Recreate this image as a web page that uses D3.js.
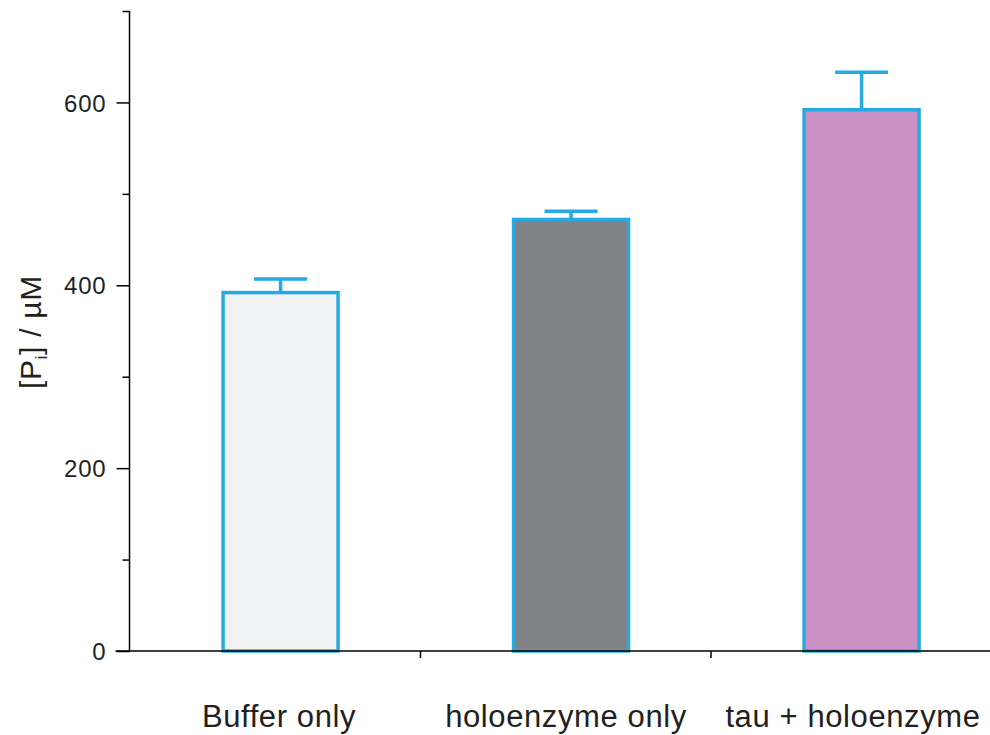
<!DOCTYPE html>
<html>
<head>
<meta charset="utf-8">
<script src="https://cdn.jsdelivr.net/npm/d3@7"></script>
<style>
  body { margin: 0; background: #fff; }
  svg text { font-family: "Liberation Sans", Arial, sans-serif; fill: #231f20; }
</style>
</head>
<body>
<svg id="chart" width="990" height="735"></svg>
<script>
const categories = ['Buffer only', 'holoenzyme only', 'tau + holoenzyme'];
const means = [392, 472, 592];
const errors = [15, 9, 41];
const fills = ['#f1f2f4', '#808285', '#c991c6'];
const majorTicks = [0, 200, 400, 600];
const minorTicks = [100, 300, 500, 700];

const svg = d3.select('#chart');
const stroke = '#27aae1';

const y = d3.scaleLinear().domain([0, 700]).range([651, 11]);
const x = d3.scaleLinear().domain([0, 3]).range([129.5, 1001]);
const barW = 115;
const capW = 53;

// bars
svg.append('g').selectAll('rect')
  .data(means)
  .enter().append('rect')
  .attr('x', (d, i) => x(i + 0.52) - barW / 2)
  .attr('y', d => y(d))
  .attr('width', barW)
  .attr('height', d => y(0) - y(d))
  .attr('fill', (d, i) => fills[i])
  .attr('stroke', stroke)
  .attr('stroke-width', 3.5);

// error bars (upper only)
const err = svg.append('g').attr('stroke', stroke).attr('stroke-width', 3.5);
means.forEach((d, i) => {
  const cx = x(i + 0.52);
  err.append('line')
    .attr('x1', cx).attr('x2', cx)
    .attr('y1', y(d)).attr('y2', y(d + errors[i]));
  err.append('line')
    .attr('x1', cx - capW / 2).attr('x2', cx + capW / 2)
    .attr('y1', y(d + errors[i])).attr('y2', y(d + errors[i]));
});

// y axis
const yAxis = svg.append('g')
  .attr('transform', 'translate(' + x(0) + ',0)')
  .call(d3.axisLeft(y).tickValues(majorTicks).tickSize(13).tickPadding(10).tickFormat(d3.format('d')));
yAxis.select('.domain').remove();
yAxis.selectAll('line').attr('stroke', '#000').attr('stroke-width', 1.5);
yAxis.selectAll('text')
  .style('font-size', '24px')
  .style('letter-spacing', '0.8px')
  .attr('dy', '0.36em');

svg.append('g')
  .attr('transform', 'translate(' + x(0) + ',0)')
  .call(d3.axisLeft(y).tickValues(minorTicks).tickSize(7).tickFormat(''))
  .call(g => g.select('.domain').remove())
  .selectAll('line').attr('stroke', '#000').attr('stroke-width', 1.5);

svg.append('line')
  .attr('x1', x(0)).attr('x2', x(0))
  .attr('y1', y(700)).attr('y2', y(0))
  .attr('stroke', '#000').attr('stroke-width', 1.5);

// x axis
const xAxis = svg.append('g')
  .attr('transform', 'translate(0,' + y(0) + ')')
  .call(d3.axisBottom(x).tickValues([1, 2]).tickSize(7).tickFormat(''));
xAxis.select('.domain').remove();
xAxis.selectAll('line').attr('stroke', '#000').attr('stroke-width', 1.5);

svg.append('line')
  .attr('x1', x(0) - 14).attr('x2', 990)
  .attr('y1', y(0)).attr('y2', y(0))
  .attr('stroke', '#000').attr('stroke-width', 1.5);

// category labels
const labelX = [279, 566, 853];
svg.append('g').selectAll('text')
  .data(categories)
  .enter().append('text')
  .attr('x', (d, i) => labelX[i])
  .attr('y', 727)
  .attr('text-anchor', 'middle')
  .style('font-size', '31px')
  .style('letter-spacing', '0.6px')
  .text(d => d);

// y label
const yl = svg.append('text')
  .attr('transform', 'translate(41,332) rotate(-90)')
  .attr('text-anchor', 'middle')
  .style('font-size', '30px')
  .style('letter-spacing', '0.7px');
yl.append('tspan').text('[P');
yl.append('tspan').style('font-size', '16px').attr('dy', 6).text('i');
yl.append('tspan').attr('dy', -6).text('] / µM');
</script>
</body>
</html>
